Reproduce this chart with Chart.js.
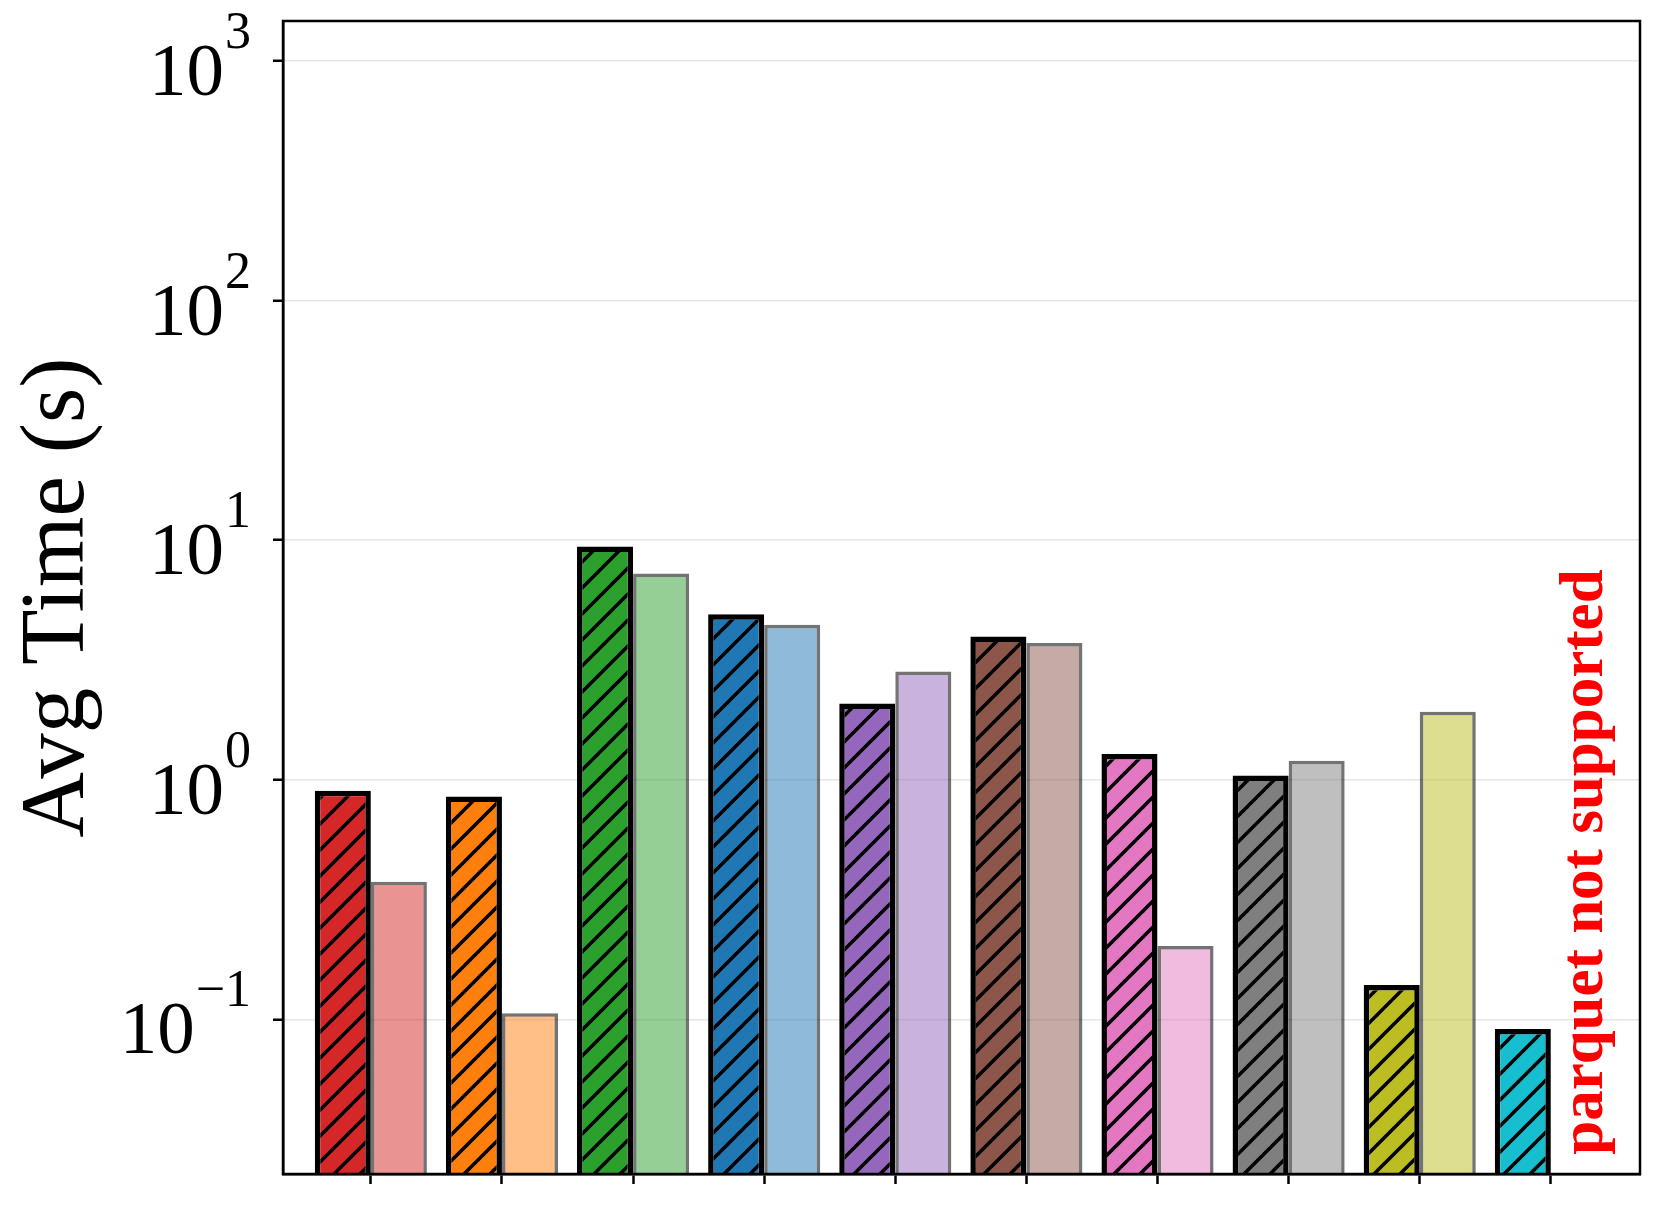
<!DOCTYPE html>
<html>
<head>
<meta charset="utf-8">
<script src="https://cdn.jsdelivr.net/npm/chart.js@4.4.1/dist/chart.umd.min.js"></script>
<style>
  html, body { margin: 0; padding: 0; background: #ffffff; }
  #wrap { width: 1662px; height: 1209px; }
</style>
</head>
<body>
<div id="wrap"><canvas id="c" width="1662" height="1209"></canvas></div>
<script>
// ---- data ----
const categories = ['S1', 'S2', 'S3', 'S4', 'S5', 'S6', 'S7', 'S8', 'S9', 'S10'];
const hatchedValues = [0.90, 0.85, 9.4, 4.9, 2.08, 3.96, 1.28, 1.04, 0.139, 0.091];
const lightValues   = [0.375, 0.106, 7.25, 4.43, 2.83, 3.72, 0.202, 1.20, 1.92, null];
const barColors = ['#d62728', '#ff7f0e', '#2ca02c', '#1f77b4', '#9467bd',
                   '#8c564b', '#e377c2', '#7f7f7f', '#bcbd22', '#17becf'];
const yTickValues = [0.1, 1, 10, 100, 1000];
const yTickExponents = ['\u22121', '0', '1', '2', '3'];
const yAxisTitle = 'Avg Time (s)';
const noteText = 'parquet not supported';

// ---- helpers ----
function hexToRgba(hex, a) {
  const n = parseInt(hex.slice(1), 16);
  return `rgba(${(n >> 16) & 255},${(n >> 8) & 255},${n & 255},${a})`;
}
function hatchPattern(color) {
  const s = 26;
  const cv = document.createElement('canvas');
  cv.width = s; cv.height = s;
  const g = cv.getContext('2d');
  g.fillStyle = color;
  g.fillRect(0, 0, s, s);
  g.strokeStyle = '#000';
  g.lineWidth = 3.5;
  g.lineCap = 'square';
  for (const o of [-s, 0, s]) {
    g.beginPath();
    g.moveTo(o, s);
    g.lineTo(o + s, 0);
    g.stroke();
  }
  return g.createPattern(cv, 'repeat');
}

const SERIF = "'Liberation Serif', 'Times New Roman', serif";

const decorPlugin = {
  id: 'decor',
  afterDatasetsDraw(chart) {
    const ctx = chart.ctx;
    const y = chart.scales.y;
    // note text at the missing bar position
    const m0 = chart.getDatasetMeta(0).data[9];
    const cx = m0.x + m0.width;
    ctx.save();
    ctx.fillStyle = '#ff0000';
    ctx.font = 'bold 61px ' + SERIF;
    ctx.translate(cx + 23, y.getPixelForValue(0.0272));
    ctx.rotate(-Math.PI / 2);
    ctx.textAlign = 'left';
    ctx.textBaseline = 'alphabetic';
    ctx.fillText(noteText, 0, 0);
    ctx.restore();
  },
  afterDraw(chart) {
    const ctx = chart.ctx;
    const a = chart.chartArea;
    const y = chart.scales.y;
    // frame
    ctx.save();
    ctx.strokeStyle = '#000';
    ctx.lineWidth = 2.5;
    ctx.strokeRect(a.left, a.top, a.right - a.left, a.bottom - a.top);
    ctx.restore();
    // y tick labels: 10^n
    ctx.save();
    ctx.fillStyle = '#000';
    ctx.textBaseline = 'alphabetic';
    const rightEdge = a.left - 32;
    yTickValues.forEach((v, i) => {
      const py = y.getPixelForValue(v);
      ctx.font = '52px ' + SERIF;
      const supW = ctx.measureText(yTickExponents[i]).width;
      ctx.textAlign = 'right';
      ctx.fillText(yTickExponents[i], rightEdge, py - 13);
      ctx.font = '75px ' + SERIF;
      ctx.fillText('10', rightEdge - supW - 1, py + 34);
    });
    ctx.restore();
  }
};

const chart = new Chart(document.getElementById('c'), {
  type: 'bar',
  data: {
    labels: categories,
    datasets: [
      {
        label: 'csv',
        data: hatchedValues.map((v, i) => ({ x: i, y: v })),
        backgroundColor: barColors.map(hatchPattern),
        borderColor: '#000000',
        borderWidth: 5.5,
        categoryPercentage: 0.855,
        barPercentage: 1.0
      },
      {
        label: 'parquet',
        data: lightValues.map((v, i) => ({ x: i, y: v })),
        backgroundColor: barColors.map(c => hexToRgba(c, 0.5)),
        borderColor: 'rgba(0,0,0,0.55)',
        borderWidth: 3.5,
        categoryPercentage: 0.855,
        barPercentage: 1.0
      }
    ]
  },
  options: {
    responsive: false,
    animation: false,
    devicePixelRatio: 1,
    layout: { padding: { left: 0, right: 22, top: 21, bottom: 0 } },
    plugins: { legend: { display: false }, tooltip: { enabled: false } },
    scales: {
      x: {
        type: 'linear',
        min: -0.67,
        max: 9.68,
        offset: false,
        afterBuildTicks: s => { s.ticks = categories.map((_, i) => ({ value: i })); },
        afterFit: s => { s.height = 35; },
        ticks: { callback: () => '', autoSkip: false, maxRotation: 0, font: { size: 1 } },
        grid: { offset: false, drawOnChartArea: false, drawTicks: true, tickLength: 10, tickColor: '#000', tickWidth: 2.5 },
        border: { display: true, color: '#000', width: 2.5 }
      },
      y: {
        type: 'logarithmic',
        min: 0.0226,
        max: 1468,
        afterBuildTicks: s => { s.ticks = yTickValues.map(v => ({ value: v, major: true })); },
        afterFit: s => { s.width = 283; },
        ticks: { callback: () => '', autoSkip: false, font: { size: 1 } },
        grid: { offset: false, color: '#e6e6e6', lineWidth: 1.5, drawTicks: true, tickLength: 10, tickColor: '#000', tickWidth: 2.5 },
        border: { display: true, color: '#000', width: 2.5 },
        title: {
          display: true,
          text: yAxisTitle,
          color: '#000',
          font: { family: SERIF, size: 91, weight: 'normal' },
          padding: { top: 4, bottom: 0 }
        }
      }
    }
  },
  plugins: [decorPlugin]
});
</script>
</body>
</html>
